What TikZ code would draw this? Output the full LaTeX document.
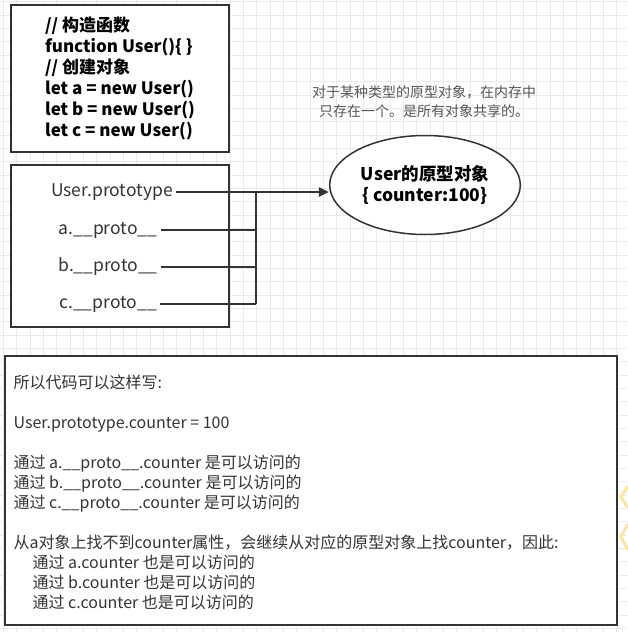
\documentclass[tikz,border=0pt]{standalone}
\usepackage{fontspec}
\setmainfont{Noto Sans CJK SC}
\usetikzlibrary{arrows.meta,shapes.geometric}
\definecolor{edge}{HTML}{333333}
\definecolor{gridgray}{HTML}{EAEAEA}
\definecolor{remarkgray}{HTML}{555555}
\definecolor{warnyellow}{HTML}{FCE4A6}
\tikzstyle{gridline} = [draw=gridgray, line width=0.6pt]
\tikzstyle{box} = [draw=edge, fill=white, line width=1.5pt, inner sep=0pt]
\tikzstyle{code} = [font=\fontsize{17}{21}\selectfont\bfseries, align=left, text=black]
\tikzstyle{ref} = [font=\fontsize{17.5}{21}\selectfont, text=edge]
\tikzstyle{remark} = [font=\fontsize{14}{19}\selectfont, align=center, text=remarkgray]
\tikzstyle{body} = [font=\fontsize{16}{20}\selectfont, align=left, text=edge]
\tikzstyle{link} = [draw=edge, line width=1.5pt]
\tikzstyle{shared} = [draw=edge, line width=2.5pt, -{Triangle[length=10pt,width=9pt]}]

\begin{document}
\begin{tikzpicture}[x=1pt, y=-1pt]
  \useasboundingbox (0,0) rectangle (627,632);
  \fill[white] (0,0) rectangle (627,632);
  \draw[gridline, step=13.333pt, shift={(3.33,1.7)}] (-3.33,-1.7) grid (623.6,630.3);

  \node[box, code, minimum width=218, minimum height=147] (codebox) at (120,78.5)
    {// 构造函数\\function User()\{ \}\\// 创建对象\\let a = new User()\\let b = new User()\\let c = new User()};

  \node[box, minimum width=218, minimum height=162] (protobox) at (120,246) {};
  \node[ref] (protoU) at (112,192) {User.prototype};
  \node[ref] (protoA) at (108,230) {a.\_\_proto\_\_};
  \node[ref] (protoB) at (108,267) {b.\_\_proto\_\_};
  \node[ref] (protoC) at (108,304) {c.\_\_proto\_\_};

  \node[ellipse, draw=edge, line width=1.5pt, fill=white, minimum width=154, minimum height=99,
    align=center, font=\fontsize{17.5}{21}\selectfont\bfseries] (protoobj) at (425,185)
    {User的原型对象\\\{ counter:100\}};
  \node[remark] (sharednote) at (424,102) {对于某种类型的原型对象，在内存中\\只存在一个。是所有对象共享的。};

  \coordinate (junc) at (256,192);
  \draw[link] (protoU.east) -- (junc);
  \draw[link] (protoA.east) -- (protoA -| junc);
  \draw[link] (protoB.east) -- (protoB -| junc);
  \draw[link] (protoC.east) -- (protoC -| junc);
  \draw[link] (junc) -- (protoC -| junc);
  \draw[shared] (junc) -- (junc -| protoobj.west);

  \node[box, minimum width=612, minimum height=269] (summary) at (311,490.5) {};
  \node[body, anchor=west] (summarytext) at (10,492)
    {所以代码可以这样写:\\[20pt]
     User.prototype.counter = 100\\[20pt]
     通过 a.\_\_proto\_\_.counter 是可以访问的\\
     通过 b.\_\_proto\_\_.counter 是可以访问的\\
     通过 c.\_\_proto\_\_.counter 是可以访问的\\[20pt]
     从a对象上找不到counter属性，会继续从对应的原型对象上找counter，因此:\\
     \hspace*{19pt}通过 a.counter 也是可以访问的\\
     \hspace*{19pt}通过 b.counter 也是可以访问的\\
     \hspace*{19pt}通过 c.counter 也是可以访问的};

  \draw[warnyellow, line width=3pt] (628,486) -- (621,497) -- (628,508);
  \draw[warnyellow, line width=3pt] (628,524) -- (621,537) -- (628,550);
\end{tikzpicture}
\end{document}
